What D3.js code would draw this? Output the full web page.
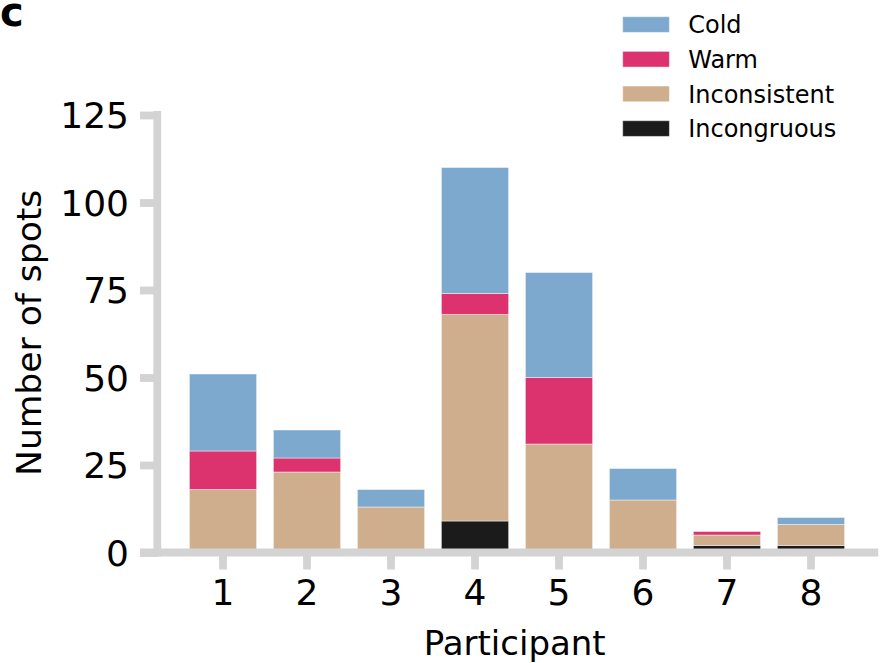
<!DOCTYPE html>
<html><head><meta charset="utf-8">
<script src="https://cdn.jsdelivr.net/npm/d3@7"></script>
<style>body{margin:0;background:#fff} svg{display:block} text{font-family:"DejaVu Sans",sans-serif;fill:#000}</style>
</head><body><svg id="c" width="887" height="663"></svg>
<script>
const participants = ["1","2","3","4","5","6","7","8"];
const stackKeys = ["Incongruous","Inconsistent","Warm","Cold"];
const incongruous = [0,0,0,9,0,0,2,2];
const inconsistent = [18,23,13,59,31,15,3,6];
const warm = [11,4,0,6,19,0,1,0];
const cold = [22,8,5,36,30,9,0,2];
const yTicks = [0,25,50,75,100,125];
const legendOrder = ["Cold","Warm","Inconsistent","Incongruous"];
const colors = {Cold:"#7ea9ce", Warm:"#dc336e", Inconsistent:"#cfae8e", Incongruous:"#1b1b1b"};

const rows = participants.map((p,i)=>({participant:p, Incongruous:incongruous[i], Inconsistent:inconsistent[i], Warm:warm[i], Cold:cold[i]}));
const series = d3.stack().keys(stackKeys)(rows);

const svg = d3.select("#c");
const x = d3.scaleBand().domain(participants).range([181, 853]).paddingInner(0.2).paddingOuter(0.1);
const y = d3.scaleLinear().domain([0,125]).range([552.5,115]);
const spineColor = "#d3d3d3", spineW = 7.8;
const yAxisX = 157.3;

// bars
svg.append("g").selectAll("g").data(series).join("g")
  .attr("fill", d=>colors[d.key])
  .selectAll("rect").data(d=>d).join("rect")
  .attr("x", d=>x(d.data.participant))
  .attr("width", x.bandwidth())
  .attr("y", d=>y(d[1]))
  .attr("height", d=>Math.max(0, y(d[0])-y(d[1])))
  .attr("stroke","rgba(255,255,255,0.45)").attr("stroke-width",1);

// y axis
const yAxis = svg.append("g").attr("transform",`translate(${yAxisX},0)`)
  .call(d3.axisLeft(y).tickValues(yTicks).tickSize(17.3).tickPadding(11));
yAxis.select(".domain").remove();
yAxis.selectAll(".tick line").attr("stroke",spineColor).attr("stroke-width",spineW);
yAxis.selectAll(".tick text").attr("font-size",36).attr("font-family","DejaVu Sans").attr("dy","0.36em").attr("fill","#000");

// x axis
const xAxis = svg.append("g").attr("transform",`translate(0,${y(0)})`)
  .call(d3.axisBottom(x).tickSize(17).tickPadding(10));
xAxis.select(".domain").remove();
xAxis.selectAll(".tick line").attr("stroke",spineColor).attr("stroke-width",spineW);
xAxis.selectAll(".tick text").attr("font-size",36).attr("font-family","DejaVu Sans").attr("fill","#000");

// spines
const c0 = x(participants[0]) + x.bandwidth()/2;
const cN = x(participants[participants.length-1]) + x.bandwidth()/2;
svg.append("line").attr("x1",yAxisX).attr("x2",yAxisX)
  .attr("y1",y(125)-4).attr("y2",y(0)+4)
  .attr("stroke",spineColor).attr("stroke-width",spineW);
svg.append("line").attr("x1",c0 - x.step()*0.988).attr("x2",cN + x.step()*0.8)
  .attr("y1",y(0)).attr("y2",y(0))
  .attr("stroke",spineColor).attr("stroke-width",spineW);

// axis labels
svg.append("text").attr("x",514.7).attr("y",655).attr("text-anchor","middle")
  .attr("font-size",34).text("Participant");
svg.append("text").attr("transform","translate(40.7,332.8) rotate(-90)").attr("text-anchor","middle")
  .attr("font-size",34.5).text("Number of spots");

// legend
const lg = svg.append("g").selectAll("g").data(legendOrder).join("g")
  .attr("transform",(d,i)=>`translate(622.7,${16.7+i*34.67})`);
lg.append("rect").attr("width",46.7).attr("height",15.7).attr("fill",d=>colors[d])
  .attr("stroke","rgba(255,255,255,0.45)").attr("stroke-width",1);
lg.append("text").attr("x",65.5).attr("y",16.5).attr("font-size",24).text(d=>d);

// panel label
svg.append("text").attr("x",0).attr("y",26).attr("font-size",40).attr("font-weight","bold").text("c");
</script></body></html>
